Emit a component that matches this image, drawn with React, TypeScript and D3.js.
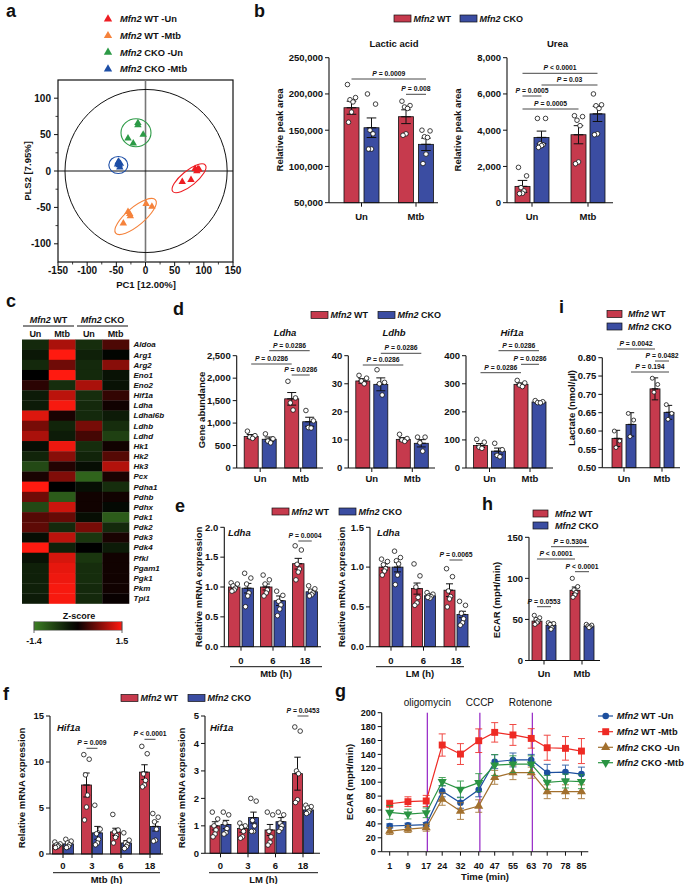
import React from "react";
import * as d3 from "d3";

const FONT = "Arial, 'Liberation Sans', Helvetica, sans-serif";
const WT_FILL = "#c63a4d";
const CKO_FILL = "#3b4da2";
const INK = "#111111";

// ---------------- Panel a : PLS-DA scores ----------------
const pcaLegendSuffix = [" WT -Un", " WT -Mtb", " CKO -Un", " CKO -Mtb"];
const pcaColors = ["#ee1d23", "#f5823b", "#2c9a46", "#1d4ea6"];
const pcaWTUn = [[85, 3], [92, 2], [88, 0], [90, 3], [78, -12], [63, -15]];
const pcaWTMtb = [[-30, -56], [-26, -62], [-38, -72], [1, -45], [11, -49], [-27, -59]];
const pcaCKOUn = [[-13, 66], [-13, 63], [-30, 45], [-21, 38], [-4, 50]];
const pcaCKOMtb = [[-47, 12], [-45, 8], [-43, 10], [-48, 9], [-44, 5], [-46, 13]];
const pcaGroups = [pcaWTUn, pcaWTMtb, pcaCKOUn, pcaCKOMtb];
const pcaXTicks = [-150, -100, -50, 0, 50, 100, 150];
const pcaYTicks = [-100, -50, 0, 50, 100];
const pcaEllipseCentres = [[74.6, -10], [-17, -62.5], [-16.3, 52.6], [-46.6, 8.2]];
const pcaEllipseShape = [[21, 7.5, -39], [26, 9, -40], [15, 14, 0], [9.5, 8.5, 0]];

// ---------------- Panel b ----------------
const unMtb = ["Un", "Mtb"];
const lacticWT = [181000, 168600];
const lacticWTErr = [9000, 9500];
const lacticWTPts = [[213000, 195000, 192000, 189000, 175000, 161000], [190000, 184000, 182000, 180000, 145000, 143000]];
const lacticCKO = [153400, 130500];
const lacticCKOErr = [13500, 8500];
const lacticCKOPts = [[200000, 186000, 150000, 145000, 124000, 124000], [150000, 149000, 141000, 140000, 117000, 104000]];
const ureaWT = [900, 3750];
const ureaWTErr = [330, 500];
const ureaWTPts = [[1950, 1480, 830, 650, 520, 500], [4800, 4750, 4550, 4250, 2250, 2150]];
const ureaCKO = [3600, 4900];
const ureaCKOErr = [350, 420];
const ureaCKOPts = [[4650, 4650, 3250, 3200, 3150, 3050], [6000, 5400, 5350, 5200, 3800, 3750]];

// ---------------- Panel c : heatmap ----------------
const heatGenes = ["Aldoa", "Arg1", "Arg2", "Eno1", "Eno2", "Hif1a", "Ldha", "Ldhal6b", "Ldhb", "Ldhd", "Hk1", "Hk2", "Hk3", "Pcx", "Pdha1", "Pdhb", "Pdhx", "Pdk1", "Pdk2", "Pdk3", "Pdk4", "Pfkl", "Pgam1", "Pgk1", "Pkm", "Tpi1"];
const heatWTUn = [-0.45, -0.25, -0.45, 0, 0.25, -0.3, -0.3, 1.3, 0.7, 1.0, -0.15, -0.4, -0.8, 0.15, 1.5, 0.65, -0.8, 0.5, 0.55, -0.15, 1.5, -0.2, -0.35, -0.35, -0.35, -0.3];
const heatWTMtb = [1.0, 1.5, 0.65, 1.5, -0.5, 1.1, 1.45, 0.15, -0.4, -0.3, 1.4, 0.8, 0.2, 0.75, 0, -1.0, 1.2, 0.6, -0.45, 1.1, -0.35, 1.25, 1.35, 1.4, 1.45, 1.45];
const heatCKOUn = [-0.5, -0.35, -0.45, -0.45, 1.0, -0.5, -0.45, -0.45, 0.7, 0.4, -0.5, -0.4, -0.15, -1.1, -0.15, 0.1, 0.1, -0.15, 0.7, -0.6, 0, -0.6, -0.5, -0.5, -0.45, -0.45];
const heatCKOMtb = [0.45, -0.05, 0.8, -0.2, -0.2, 0.3, 0.1, -0.3, -0.5, -0.7, 0.1, 0.5, 1.05, 0.15, -0.5, 0.1, -0.1, -1.0, -0.45, 0.15, -0.3, 0.1, 0.1, 0.1, 0.1, 0.05];
const heatCols = ["WT-Un", "WT-Mtb", "CKO-Un", "CKO-Mtb"];
const heatColLabels = ["Un", "Mtb", "Un", "Mtb"];

// ---------------- Panel d ----------------
const ldhaWT = [700, 1540];
const ldhaWTErr = [45, 140];
const ldhaWTPts = [[820, 720, 690, 660], [1930, 1560, 1450, 1290]];
const ldhaCKO = [640, 1030];
const ldhaCKOErr = [50, 100];
const ldhaCKOPts = [[760, 650, 600, 560], [1280, 1050, 900, 890]];
const ldhbWT = [31, 10.2];
const ldhbWTErr = [0.8, 0.6];
const ldhbWTPts = [[33, 32, 31, 30], [12, 10.5, 10, 9.5]];
const ldhbCKO = [29.8, 8.8];
const ldhbCKOErr = [2.3, 1.3];
const ldhbCKOPts = [[35, 30.5, 30, 26], [11, 11, 9, 6]];
const hifdWT = [80, 298];
const hifdWTErr = [7, 5];
const hifdWTPts = [[102, 92, 74, 70], [312, 303, 295, 290]];
const hifdCKO = [60, 235];
const hifdCKOErr = [11, 3];
const hifdCKOPts = [[88, 65, 45, 40], [240, 236, 233, 232]];

// ---------------- Panel i ----------------
const lactWT = [0.58, 0.715];
const lactWTErr = [0.022, 0.03];
const lactWTPts = [[0.6, 0.573, 0.555], [0.744, 0.727, 0.706]];
const lactCKO = [0.618, 0.651];
const lactCKOErr = [0.032, 0.019];
const lactCKOPts = [[0.648, 0.63, 0.585], [0.672, 0.648, 0.632]];

// ---------------- Panel e ----------------
const eTimes = ["0", "6", "18"];
const eMtbWT = [1.0, 1.0, 1.39];
const eMtbWTErr = [0.03, 0.05, 0.09];
const eMtbWTPts = [[1.07, 1.05, 1.02, 0.98, 0.95, 0.93], [1.2, 1.12, 1.05, 0.95, 0.9, 0.85], [1.69, 1.62, 1.38, 1.3, 1.25, 1.12]];
const eMtbCKO = [0.98, 0.77, 0.92];
const eMtbCKOErr = [0.08, 0.08, 0.04];
const eMtbCKOPts = [[1.23, 1.15, 1.05, 0.9, 0.85, 0.67], [0.93, 0.86, 0.76, 0.7, 0.63, 0.52], [1.02, 0.97, 0.93, 0.9, 0.87, 0.85]];
const eLmWT = [1.0, 0.73, 0.71];
const eLmWTErr = [0.04, 0.07, 0.08];
const eLmWTPts = [[1.1, 1.07, 1.03, 0.98, 0.95, 0.9], [1.04, 0.89, 0.75, 0.62, 0.55, 0.52], [0.98, 0.88, 0.7, 0.63, 0.6, 0.5]];
const eLmCKO = [1.0, 0.64, 0.405];
const eLmCKOErr = [0.06, 0.02, 0.04];
const eLmCKOPts = [[1.2, 1.12, 1.08, 1.04, 0.9, 0.78], [0.68, 0.66, 0.64, 0.63, 0.61, 0.62], [0.57, 0.52, 0.42, 0.35, 0.3, 0.27]];

// ---------------- Panel h ----------------
const ecarWT = [48, 85.5];
const ecarWTErr = [2.5, 4];
const ecarWTPts = [[55, 52, 50, 48, 46, 44], [100, 90, 86, 83, 80, 77]];
const ecarCKO = [43, 42];
const ecarCKOErr = [3.5, 1.5];
const ecarCKOPts = [[46, 45, 44, 40, 38], [44, 43, 42, 41, 40]];

// ---------------- Panel f ----------------
const fTimes = ["0", "3", "6", "18"];
const fMtbWT = [1.0, 7.5, 2.4, 8.9];
const fMtbWTErr = [0.1, 1.3, 0.4, 0.8];
const fMtbWTPts = [[1.3, 1.1, 1.0, 0.9, 0.8, 0.7], [10.8, 10.3, 8.6, 6.4, 5.1, 3.7], [4.3, 2.6, 2.4, 2.0, 1.8, 1.2], [11.7, 10.9, 8.7, 8.0, 7.5, 7.3]];
const fMtbCKO = [1.1, 2.3, 1.2, 3.0];
const fMtbCKOErr = [0.15, 0.7, 0.25, 0.5];
const fMtbCKOPts = [[1.6, 1.4, 1.2, 1.0, 0.8, 0.7], [5.3, 2.7, 2.2, 1.6, 1.2, 1.0], [2.3, 1.5, 1.2, 1.0, 0.8, 0.6], [4.4, 4.0, 3.5, 2.7, 1.5, 1.4]];
const fLmWT = [1.0, 0.9, 0.85, 2.9];
const fLmWTErr = [0.15, 0.13, 0.2, 0.6];
const fLmWTPts = [[1.5, 1.25, 1.0, 0.85, 0.7, 0.6], [1.1, 1.0, 0.95, 0.8, 0.6, 0.55], [1.5, 1.4, 0.8, 0.6, 0.4, 0.3], [4.6, 4.45, 3.0, 2.9, 1.95, 1.85]];
const fLmCKO = [1.05, 1.3, 1.15, 1.58];
const fLmCKOErr = [0.15, 0.2, 0.15, 0.06];
const fLmCKOPts = [[1.5, 1.4, 1.1, 0.9, 0.75, 0.7], [2.0, 1.9, 1.2, 1.0, 0.8, 0.8], [1.5, 1.4, 1.1, 1.0, 0.9, 0.8], [1.75, 1.7, 1.65, 1.55, 1.5, 1.45]];

// ---------------- Panel g : Seahorse ECAR ----------------
const gTimes = [1, 9, 17, 24, 32, 40, 47, 55, 63, 70, 78, 85];
const gInjections = [17.5, 40.5, 63.5];
const gInjectionNames = ["oligomycin", "CCCP", "Rotenone"];
const gWTUn = [37, 38, 39, 87, 70.5, 89, 129.5, 132, 132, 113.7, 114.6, 111.7];
const gWTUnErr = [3, 3, 3, 8, 8, 10, 10, 10, 8, 12, 10, 10];
const gWTMtb = [69, 72, 73, 153.5, 140.5, 159.7, 171.7, 168, 163, 149.6, 148.7, 144.8];
const gWTMtbErr = [5, 7, 8, 16, 15, 17, 14, 15, 14, 18, 17, 18];
const gCKOUn = [29.7, 32.6, 34.5, 75.8, 58.5, 65.7, 107, 113.7, 113.7, 86.3, 86.3, 86.3];
const gCKOUnErr = [5, 5, 5, 9, 12, 9, 10, 10, 8, 10, 10, 10];
const gCKOMtb = [56.6, 54.2, 56, 100.7, 89.7, 99.3, 124.7, 126, 126, 99.8, 101.7, 100.7];
const gCKOMtbErr = [10, 7, 7, 6, 12, 13, 15, 12, 12, 10, 10, 10];

// ---------------- helpers ----------------
function Txt(props: any) {
  const { children, ...rest } = props;
  return (
    <text fontFamily={FONT} fontWeight="bold" fill={INK} {...rest}>
      {children}
    </text>
  );
}

function Mfn2({ x, y, suffix, size = 9, anchor = "start" }: any) {
  return (
    <text x={x} y={y} fontFamily={FONT} fontWeight="bold" fontSize={size} textAnchor={anchor} fill={INK}>
      <tspan fontStyle="italic">Mfn2</tspan>
      {suffix}
    </text>
  );
}

function Letter({ x, y, ch }: any) {
  return (
    <Txt x={x} y={y} fontSize={18}>
      {ch}
    </Txt>
  );
}

function YLabel({ x, y, text, size = 9.5 }: any) {
  return (
    <Txt x={0} y={0} fontSize={size} textAnchor="middle" dy="0.35em" transform={`translate(${x},${y}) rotate(-90)`}>
      {text}
    </Txt>
  );
}

function LegendRow({ xs, y }: any) {
  return (
    <g>
      <rect x={xs[0]} y={y - 3.5} width={17} height={7} fill={WT_FILL} stroke={INK} strokeWidth={0.7} />
      <Mfn2 x={xs[0] + 19.5} y={y + 3.3} suffix=" WT" />
      <rect x={xs[1]} y={y - 3.5} width={17} height={7} fill={CKO_FILL} stroke={INK} strokeWidth={0.7} />
      <Mfn2 x={xs[1] + 19.5} y={y + 3.3} suffix="  CKO" />
    </g>
  );
}

function LegendCol({ x, ys, tx }: any) {
  return (
    <g>
      <rect x={x} y={ys[0] - 3.5} width={15} height={7} fill={WT_FILL} stroke={INK} strokeWidth={0.7} />
      <Mfn2 x={tx} y={ys[0] + 3.3} suffix=" WT" />
      <rect x={x} y={ys[1] - 3.5} width={15} height={7} fill={CKO_FILL} stroke={INK} strokeWidth={0.7} />
      <Mfn2 x={tx} y={ys[1] + 3.3} suffix=" CKO" />
    </g>
  );
}

function PLabel({ x, y, label, size = 6.8 }: any) {
  return (
    <Txt x={x} y={y} fontSize={size} textAnchor="middle">
      <tspan fontStyle="italic">{label.slice(0, 1)}</tspan>
      {label.slice(1)}
    </Txt>
  );
}

type Bar = { vals: number[]; errs: number[]; pts: number[][] };
type Br = { a: number[]; b: number[]; y: number; label: string };

function BarPanel(props: any) {
  const {
    x0, x1, y0, y1, domain, ticks, fmt, c1, c2, groupW, subPad, groups, series, brackets,
    ptR = 2.3, xLabelY, tickFs = 9.5,
  } = props;
  const y = d3.scaleLinear().domain(domain).range([y0, y1]);
  const n = groups.length;
  const step = (c2 - c1) / (n - 1);
  const pin = 1 - groupW / step;
  const gx = d3.scaleBand<string>().domain(groups).range([c1 - step / 2, c2 + step / 2]).paddingInner(pin).paddingOuter(pin / 2);
  const sx = d3.scaleBand<number>().domain([0, 1]).range([0, gx.bandwidth()]).paddingInner(subPad).paddingOuter(0);
  const bw = sx.bandwidth();
  const cx = (g: number, s: number) => (gx(groups[g]) as number) + (sx(s) as number) + bw / 2;
  const gc = (g: number) => (gx(groups[g]) as number) + gx.bandwidth() / 2;
  const jit = [-0.27, 0.27, -0.1, 0.1, 0, -0.2, 0.2];
  const fills = [WT_FILL, CKO_FILL];
  const cap = bw * 0.32;
  return (
    <g>
      {(series as Bar[]).map((s, si) =>
        s.vals.map((v, gi) => {
          const X = cx(gi, si);
          const top = y(v);
          const base = y(domain[0]);
          const e = s.errs[gi];
          return (
            <g key={`b${si}-${gi}`}>
              <rect x={X - bw / 2} y={top} width={bw} height={base - top} fill={fills[si]} stroke={INK} strokeWidth={0.8} />
              <line x1={X} x2={X} y1={y(v + e)} y2={y(v - e)} stroke={INK} strokeWidth={1} />
              <line x1={X - cap} x2={X + cap} y1={y(v + e)} y2={y(v + e)} stroke={INK} strokeWidth={1} />
              <line x1={X - cap} x2={X + cap} y1={y(v - e)} y2={y(v - e)} stroke={INK} strokeWidth={1} />
              <line x1={X - cap} x2={X + cap} y1={top} y2={top} stroke={INK} strokeWidth={1.2} />
              {s.pts[gi].map((p, k) => (
                <circle key={k} cx={X + jit[k % jit.length] * bw} cy={y(p)} r={ptR} fill="#fff" stroke={INK} strokeWidth={0.8} />
              ))}
            </g>
          );
        })
      )}
      {/* y axis */}
      <line x1={x0} x2={x0} y1={y(domain[0])} y2={y(domain[1])} stroke={INK} strokeWidth={1.1} />
      {(ticks as number[]).map((t) => (
        <g key={`t${t}`}>
          <line x1={x0 - 4} x2={x0} y1={y(t)} y2={y(t)} stroke={INK} strokeWidth={1} />
          <Txt x={x0 - 6} y={y(t)} dy="0.35em" fontSize={tickFs} textAnchor="end">
            {fmt(t)}
          </Txt>
        </g>
      ))}
      {/* x axis */}
      <line x1={x0} x2={x1} y1={y0} y2={y0} stroke={INK} strokeWidth={1.1} />
      {(groups as string[]).map((g, gi) => (
        <g key={`g${g}`}>
          <line x1={gc(gi)} x2={gc(gi)} y1={y0} y2={y0 + 4} stroke={INK} strokeWidth={1} />
          <Txt x={gc(gi)} y={xLabelY} fontSize={tickFs} textAnchor="middle">
            {g}
          </Txt>
        </g>
      ))}
      {(brackets as Br[]).map((b, bi) => {
        const xa = cx(b.a[0], b.a[1]);
        const xb = cx(b.b[0], b.b[1]);
        return (
          <g key={`br${bi}`}>
            <line x1={xa} x2={xb} y1={b.y} y2={b.y} stroke="#333" strokeWidth={0.9} />
            <PLabel x={(xa + xb) / 2} y={b.y - 3} label={b.label} />
          </g>
        );
      })}
    </g>
  );
}

function SubAxis({ x1, x2, y, label }: any) {
  return (
    <g>
      <line x1={x1} x2={x2} y1={y} y2={y} stroke={INK} strokeWidth={1} />
      <Txt x={(x1 + x2) / 2} y={y + 10.5} fontSize={9.5} textAnchor="middle">
        {label}
      </Txt>
    </g>
  );
}

// ---------------- Panels ----------------
function PanelA() {
  const x = d3.scaleLinear().domain([-150, 150]).range([58, 233]);
  const y = d3.scaleLinear().domain([-125, 125]).range([262, 80]);
  const tri = d3.symbol(d3.symbolTriangle, 24)();
  const triL = d3.symbol(d3.symbolTriangle, 30)();
  const minorX = [-125, -75, -25, 25, 75, 125];
  const minorY = [-75, -25, 25, 75];
  return (
    <g>
      <Letter x={6} y={17} ch="a" />
      {pcaLegendSuffix.map((s, i) => (
        <g key={s}>
          <path d={triL as string} transform={`translate(108,${19 + i * 16.7})`} fill={pcaColors[i]} />
          <Mfn2 x={120} y={22.3 + i * 16.7} suffix={s} size={9.3} />
        </g>
      ))}
      <rect x={x(-150)} y={y(125)} width={x(150) - x(-150)} height={y(-125) - y(125)} fill="none" stroke={INK} strokeWidth={1.2} />
      <line x1={x(0)} x2={x(0)} y1={y(125)} y2={y(-125)} stroke="#777" strokeWidth={1.6} />
      <line x1={x(-150)} x2={x(150)} y1={y(0)} y2={y(0)} stroke={INK} strokeWidth={1} />
      <ellipse cx={x(1)} cy={y(0)} rx={x(139) - x(0)} ry={y(0) - y(112)} fill="none" stroke={INK} strokeWidth={1} />
      {pcaEllipseCentres.map((c, i) => (
        <ellipse
          key={`e${i}`}
          cx={0}
          cy={0}
          rx={pcaEllipseShape[i][0]}
          ry={pcaEllipseShape[i][1]}
          transform={`translate(${x(c[0])},${y(c[1])}) rotate(${pcaEllipseShape[i][2]})`}
          fill="none"
          stroke={pcaColors[i]}
          strokeWidth={1.1}
        />
      ))}
      {pcaGroups.map((g, gi) =>
        g.map((p, k) => <path key={`p${gi}-${k}`} d={tri as string} transform={`translate(${x(p[0])},${y(p[1])})`} fill={pcaColors[gi]} />)
      )}
      {pcaXTicks.map((t) => (
        <g key={`x${t}`}>
          <line x1={x(t)} x2={x(t)} y1={262} y2={266} stroke={INK} strokeWidth={1} />
          <Txt x={x(t)} y={274} fontSize={10} textAnchor="middle">
            {t}
          </Txt>
        </g>
      ))}
      {minorX.map((t) => (
        <line key={`mx${t}`} x1={x(t)} x2={x(t)} y1={262} y2={264.5} stroke={INK} strokeWidth={0.8} />
      ))}
      {pcaYTicks.map((t) => (
        <g key={`y${t}`}>
          <line x1={54} x2={58} y1={y(t)} y2={y(t)} stroke={INK} strokeWidth={1} />
          <Txt x={51} y={y(t)} dy="0.35em" fontSize={10} textAnchor="end">
            {t}
          </Txt>
        </g>
      ))}
      {minorY.map((t) => (
        <line key={`my${t}`} x1={55.5} x2={58} y1={y(t)} y2={y(t)} stroke={INK} strokeWidth={0.8} />
      ))}
      <YLabel x={28} y={171} text="PLS2 [7.95%]" />
      <Txt x={146} y={288} fontSize={9.5} textAnchor="middle">
        PC1 [12.00%]
      </Txt>
    </g>
  );
}

function PanelB() {
  const lacticBr: Br[] = [
    { a: [0, 0], b: [1, 1], y: 79, label: "P = 0.0009" },
    { a: [1, 0], b: [1, 1], y: 94.3, label: "P = 0.008" },
  ];
  const ureaBr: Br[] = [
    { a: [0, 0], b: [1, 1], y: 73.3, label: "P < 0.0001" },
    { a: [0, 1], b: [1, 1], y: 85, label: "P = 0.03" },
    { a: [0, 0], b: [0, 1], y: 96, label: "P = 0.0005" },
    { a: [0, 0], b: [1, 0], y: 109, label: "P = 0.0005" },
  ];
  return (
    <g>
      <Letter x={254} y={17} ch="b" />
      <LegendRow xs={[394, 460]} y={18.5} />
      <Txt x={394} y={46.5} fontSize={9.5} textAnchor="middle">
        Lactic acid
      </Txt>
      <Txt x={557.5} y={46.5} fontSize={9.5} textAnchor="middle">
        Urea
      </Txt>
      <BarPanel
        x0={329} x1={438} y0={202.7} y1={57.7} domain={[50000, 250000]} ticks={d3.range(50000, 250001, 50000)}
        fmt={d3.format(",")} c1={361.5} c2={416} groupW={35} subPad={0.25} groups={unMtb}
        series={[
          { vals: lacticWT, errs: lacticWTErr, pts: lacticWTPts },
          { vals: lacticCKO, errs: lacticCKOErr, pts: lacticCKOPts },
        ]}
        brackets={lacticBr} xLabelY={219.5}
      />
      <YLabel x={280} y={130} text="Relative peak area" />
      <BarPanel
        x0={507} x1={613} y0={202.7} y1={57.7} domain={[0, 8000]} ticks={d3.range(0, 8001, 2000)}
        fmt={d3.format(",")} c1={532} c2={588} groupW={34} subPad={0.21} groups={unMtb}
        series={[
          { vals: ureaWT, errs: ureaWTErr, pts: ureaWTPts },
          { vals: ureaCKO, errs: ureaCKOErr, pts: ureaCKOPts },
        ]}
        brackets={ureaBr} xLabelY={219.5}
      />
      <YLabel x={458} y={130} text="Relative peak area" />
    </g>
  );
}

function PanelC() {
  const cols = [heatWTUn, heatWTMtb, heatCKOUn, heatCKOMtb];
  const x = d3.scaleBand<string>().domain(heatCols).range([22, 129]);
  const y = d3.scaleBand<string>().domain(heatGenes).range([339.5, 603.5]);
  const color = d3.scaleLinear<string>().domain([-1.4, 0, 1.5]).range(["#3d7f24", "#000000", "#ff1a10"]);
  const cb = d3.scaleLinear().domain([-1.4, 1.5]).range([34, 122]);
  const stops = d3.range(0, 1.0001, 0.1).map((f) => -1.4 + f * 2.9);
  return (
    <g>
      <Letter x={6} y={307} ch="c" />
      <Mfn2 x={48.5} y={323} suffix=" WT" anchor="middle" size={9} />
      <Mfn2 x={102.5} y={323} suffix="  CKO" anchor="middle" size={9} />
      <line x1={23} x2={74} y1={326} y2={326} stroke={INK} strokeWidth={1} />
      <line x1={77} x2={128} y1={326} y2={326} stroke={INK} strokeWidth={1} />
      {heatCols.map((c, i) => (
        <Txt key={c} x={(x(c) as number) + x.bandwidth() / 2} y={336.5} fontSize={9} textAnchor="middle">
          {heatColLabels[i]}
        </Txt>
      ))}
      {cols.map((col, ci) =>
        col.map((v, ri) => (
          <rect
            key={`h${ci}-${ri}`}
            x={x(heatCols[ci]) as number}
            y={y(heatGenes[ri]) as number}
            width={x.bandwidth() + 0.3}
            height={y.bandwidth() + 0.3}
            fill={color(v)}
          />
        ))
      )}
      {heatGenes.map((g) => (
        <Txt key={g} x={133.5} y={(y(g) as number) + y.bandwidth() / 2} dy="0.35em" fontSize={8} fontStyle="italic">
          {g}
        </Txt>
      ))}
      <defs>
        <linearGradient id="zgrad" x1="0" x2="1" y1="0" y2="0">
          {stops.map((s, i) => (
            <stop key={i} offset={`${i * 10}%`} stopColor={color(s)} />
          ))}
        </linearGradient>
      </defs>
      <Txt x={79} y={619} fontSize={9} textAnchor="middle">
        Z-score
      </Txt>
      <rect x={cb(-1.4)} y={621.7} width={cb(1.5) - cb(-1.4)} height={8.5} fill="url(#zgrad)" stroke="#666" strokeWidth={0.5} />
      {[-1.4, 1.5].map((t) => (
        <g key={t}>
          <line x1={cb(t)} x2={cb(t)} y1={621.7} y2={633} stroke="#444" strokeWidth={0.8} />
          <Txt x={cb(t)} y={644} fontSize={9} textAnchor="middle">
            {t}
          </Txt>
        </g>
      ))}
    </g>
  );
}

function PanelD() {
  const p = "P = 0.0286";
  const br1: Br[] = [
    { a: [0, 1], b: [1, 1], y: 350.7, label: p },
    { a: [0, 0], b: [1, 0], y: 364, label: p },
    { a: [1, 0], b: [1, 1], y: 375, label: p },
  ];
  const br2: Br[] = [
    { a: [0, 1], b: [1, 1], y: 353.3, label: p },
    { a: [0, 0], b: [1, 0], y: 365, label: p },
  ];
  const br3: Br[] = [
    { a: [0, 1], b: [1, 1], y: 350.7, label: p },
    { a: [1, 0], b: [1, 1], y: 364.3, label: p },
    { a: [0, 0], b: [1, 0], y: 372.7, label: p },
  ];
  const common = { y0: 468, y1: 355.7, groupW: 32, subPad: 0.222, groups: unMtb, xLabelY: 481.5 };
  return (
    <g>
      <Letter x={173} y={315} ch="d" />
      <LegendRow xs={[311, 378]} y={315} />
      <Txt x={285} y={335.5} fontSize={9.5} textAnchor="middle" fontStyle="italic">Ldha</Txt>
      <Txt x={394} y={335.5} fontSize={9.5} textAnchor="middle" fontStyle="italic">Ldhb</Txt>
      <Txt x={512} y={335.5} fontSize={9.5} textAnchor="middle" fontStyle="italic">Hif1a</Txt>
      <BarPanel
        {...common} x0={236.7} x1={323} domain={[0, 2500]} ticks={d3.range(0, 2501, 500)} fmt={d3.format(",")}
        c1={260.2} c2={300.7}
        series={[
          { vals: ldhaWT, errs: ldhaWTErr, pts: ldhaWTPts },
          { vals: ldhaCKO, errs: ldhaCKOErr, pts: ldhaCKOPts },
        ]}
        brackets={br1}
      />
      <BarPanel
        {...common} x0={348.3} x1={435} domain={[0, 40]} ticks={d3.range(0, 41, 10)} fmt={d3.format("d")}
        c1={371.8} c2={412.3}
        series={[
          { vals: ldhbWT, errs: ldhbWTErr, pts: ldhbWTPts },
          { vals: ldhbCKO, errs: ldhbCKOErr, pts: ldhbCKOPts },
        ]}
        brackets={br2}
      />
      <BarPanel
        {...common} x0={466} x1={553} domain={[0, 400]} ticks={d3.range(0, 401, 100)} fmt={d3.format("d")}
        c1={489.5} c2={530}
        series={[
          { vals: hifdWT, errs: hifdWTErr, pts: hifdWTPts },
          { vals: hifdCKO, errs: hifdCKOErr, pts: hifdCKOPts },
        ]}
        brackets={br3}
      />
      <YLabel x={202} y={410} text="Gene abundance" />
    </g>
  );
}

function PanelI() {
  const br: Br[] = [
    { a: [0, 0], b: [1, 0], y: 349, label: "P = 0.0042" },
    { a: [1, 0], b: [1, 1], y: 361, label: "P = 0.0482" },
    { a: [0, 1], b: [1, 1], y: 372, label: "P = 0.194" },
  ];
  return (
    <g>
      <Letter x={559} y={313} ch="i" />
      <LegendCol x={607} ys={[314, 326.5]} tx={628} />
      <BarPanel
        x0={602.3} x1={680} y0={467.7} y1={357.7} domain={[0.5, 0.8]} ticks={[0.5, 0.55, 0.6, 0.65, 0.7, 0.75, 0.8]}
        fmt={d3.format(".2f")} c1={624} c2={662} groupW={24} subPad={0.286} groups={unMtb}
        series={[
          { vals: lactWT, errs: lactWTErr, pts: lactWTPts },
          { vals: lactCKO, errs: lactCKOErr, pts: lactCKOPts },
        ]}
        brackets={br} xLabelY={481.8} ptR={2}
      />
      <YLabel x={572} y={408} text="Lactate (nmol/μl)" />
    </g>
  );
}

function PanelE() {
  return (
    <g>
      <Letter x={175} y={512} ch="e" />
      <LegendRow xs={[272, 339]} y={511.5} />
      <BarPanel
        x0={224.3} x1={321} y0={646.7} y1={527.3} domain={[0, 2]} ticks={[0, 0.5, 1, 1.5, 2]} fmt={d3.format(".1f")}
        c1={241} c2={305} groupW={25} subPad={0.148} groups={eTimes}
        series={[
          { vals: eMtbWT, errs: eMtbWTErr, pts: eMtbWTPts },
          { vals: eMtbCKO, errs: eMtbCKOErr, pts: eMtbCKOPts },
        ]}
        brackets={[{ a: [2, 0], b: [2, 1], y: 541, label: "P = 0.0004" }]} xLabelY={663.5}
      />
      <Txt x={228} y={535.5} fontSize={9.5} fontStyle="italic">Ldha</Txt>
      <SubAxis x1={230} x2={322} y={666.7} label="Mtb (h)" />
      <YLabel x={199} y={587} text="Relative mRNA expression" />
      <BarPanel
        x0={370} x1={470} y0={646.7} y1={527.3} domain={[0, 1.5]} ticks={[0, 0.5, 1, 1.5]} fmt={d3.format(".1f")}
        c1={391} c2={456} groupW={24} subPad={0.154} groups={eTimes}
        series={[
          { vals: eLmWT, errs: eLmWTErr, pts: eLmWTPts },
          { vals: eLmCKO, errs: eLmCKOErr, pts: eLmCKOPts },
        ]}
        brackets={[{ a: [2, 0], b: [2, 1], y: 560, label: "P = 0.0065" }]} xLabelY={663.5}
      />
      <Txt x={377} y={535.5} fontSize={9.5} fontStyle="italic">Ldha</Txt>
      <SubAxis x1={376} x2={464} y={666.7} label="LM (h)" />
      <YLabel x={342} y={587} text="Relative mRNA expression" />
    </g>
  );
}

function PanelH() {
  const br: Br[] = [
    { a: [0, 0], b: [0, 1], y: 606.7, label: "P = 0.0553" },
    { a: [0, 0], b: [1, 0], y: 559, label: "P < 0.0001" },
    { a: [0, 1], b: [1, 1], y: 546.7, label: "P = 0.5304" },
    { a: [1, 0], b: [1, 1], y: 571.7, label: "P < 0.0001" },
  ];
  return (
    <g>
      <Letter x={482} y={510} ch="h" />
      <LegendCol x={533} ys={[513.5, 525.5]} tx={555} />
      <BarPanel
        x0={529} x1={600} y0={660.5} y1={537.3} domain={[0, 150]} ticks={[0, 50, 100, 150]} fmt={d3.format("d")}
        c1={544} c2={582} groupW={24} subPad={0.286} groups={unMtb}
        series={[
          { vals: ecarWT, errs: ecarWTErr, pts: ecarWTPts },
          { vals: ecarCKO, errs: ecarCKOErr, pts: ecarCKOPts },
        ]}
        brackets={br} xLabelY={676.5} ptR={2.1}
      />
      <YLabel x={497} y={600} text="ECAR (mpH/min)" />
    </g>
  );
}

function PanelF() {
  return (
    <g>
      <Letter x={3} y={700} ch="f" />
      <LegendRow xs={[121, 188]} y={698} />
      <BarPanel
        x0={50} x1={163} y0={854} y1={716} domain={[0, 15]} ticks={[0, 5, 10, 15]} fmt={d3.format("d")}
        c1={63} c2={150} groupW={21} subPad={0.09} groups={fTimes}
        series={[
          { vals: fMtbWT, errs: fMtbWTErr, pts: fMtbWTPts },
          { vals: fMtbCKO, errs: fMtbCKOErr, pts: fMtbCKOPts },
        ]}
        brackets={[
          { a: [1, 0], b: [1, 1], y: 748.3, label: "P = 0.009" },
          { a: [3, 0], b: [3, 1], y: 739.3, label: "P < 0.0001" },
        ]}
        xLabelY={868.5}
      />
      <Txt x={57} y={730.5} fontSize={9.5} fontStyle="italic">Hif1a</Txt>
      <SubAxis x1={53} x2={160} y={872.7} label="Mtb (h)" />
      <YLabel x={22} y={788} text="Relative mRNA expression" />
      <BarPanel
        x0={205} x1={320} y0={853.3} y1={716} domain={[0, 5]} ticks={[0, 1, 2, 3, 4, 5]} fmt={d3.format("d")}
        c1={220.5} c2={303} groupW={21} subPad={0.09} groups={fTimes}
        series={[
          { vals: fLmWT, errs: fLmWTErr, pts: fLmWTPts },
          { vals: fLmCKO, errs: fLmCKOErr, pts: fLmCKOPts },
        ]}
        brackets={[{ a: [3, 0], b: [3, 1], y: 716, label: "P = 0.0453" }]}
        xLabelY={868.5}
      />
      <Txt x={210} y={730.5} fontSize={9.5} fontStyle="italic">Hif1a</Txt>
      <SubAxis x1={209} x2={318} y={872.7} label="LM (h)" />
      <YLabel x={182} y={788} text="Relative mRNA expression" />
    </g>
  );
}

function PanelG() {
  const x = d3.scaleLinear().domain([-2.5, 88]).range([381.7, 588.3]);
  const y = d3.scaleLinear().domain([0, 200]).range([851.7, 712.7]);
  const series = [
    { suffix: " WT -Un", vals: gWTUn, errs: gWTUnErr, color: "#1c4f9e", sym: d3.symbolCircle, size: 34, rot: 0 },
    { suffix: " WT -Mtb", vals: gWTMtb, errs: gWTMtbErr, color: "#ee2a24", sym: d3.symbolSquare, size: 48, rot: 0 },
    { suffix: " CKO -Un", vals: gCKOUn, errs: gCKOUnErr, color: "#a2702e", sym: d3.symbolTriangle, size: 36, rot: 0 },
    { suffix: " CKO -Mtb", vals: gCKOMtb, errs: gCKOMtbErr, color: "#2a9442", sym: d3.symbolTriangle, size: 36, rot: 180 },
  ];
  const line = (vals: number[]) =>
    d3.line<number>().x((_, i) => x(gTimes[i])).y((d) => y(d))(vals) as string;
  const legendYs = [716, 731.7, 747.3, 762.7];
  return (
    <g>
      <Letter x={335} y={697} ch="g" />
      {gInjections.map((t, i) => (
        <g key={`inj${t}`}>
          <line x1={x(t)} x2={x(t)} y1={y(200)} y2={y(0)} stroke="#9b33c9" strokeWidth={1.3} />
          <text x={x(t) + (i === 2 ? -2 : 0)} y={705.5} fontFamily={FONT} fontSize={10} textAnchor="middle" fill={INK}>
            {gInjectionNames[i]}
          </text>
        </g>
      ))}
      {series.map((s, si) => (
        <g key={`s${si}`}>
          {s.vals.map((v, i) => {
            const X = x(gTimes[i]);
            return (
              <g key={i} stroke={s.color} strokeWidth={1} opacity={0.85}>
                <line x1={X} x2={X} y1={y(v + s.errs[i])} y2={y(v - s.errs[i])} />
                <line x1={X - 3.5} x2={X + 3.5} y1={y(v + s.errs[i])} y2={y(v + s.errs[i])} />
                <line x1={X - 3.5} x2={X + 3.5} y1={y(v - s.errs[i])} y2={y(v - s.errs[i])} />
              </g>
            );
          })}
          <path d={line(s.vals)} fill="none" stroke={s.color} strokeWidth={1.2} />
          {s.vals.map((v, i) => (
            <path
              key={`m${i}`}
              d={d3.symbol(s.sym, s.size)() as string}
              transform={`translate(${x(gTimes[i])},${y(v)}) rotate(${s.rot})`}
              fill={s.color}
            />
          ))}
        </g>
      ))}
      {/* axes */}
      <line x1={x(-2.5)} x2={x(-2.5)} y1={y(0)} y2={y(200)} stroke={INK} strokeWidth={1.1} />
      {d3.range(0, 201, 20).map((t) => (
        <g key={`gy${t}`}>
          <line x1={x(-2.5) - 4} x2={x(-2.5)} y1={y(t)} y2={y(t)} stroke={INK} strokeWidth={1} />
          <Txt x={x(-2.5) - 6} y={y(t)} dy="0.35em" fontSize={9} textAnchor="end">
            {t}
          </Txt>
        </g>
      ))}
      <line x1={x(-2.5)} x2={x(88)} y1={y(0)} y2={y(0)} stroke={INK} strokeWidth={1.1} />
      {gTimes.map((t) => (
        <g key={`gx${t}`}>
          <line x1={x(t)} x2={x(t)} y1={y(0)} y2={y(0) + 4} stroke={INK} strokeWidth={1} />
          <Txt x={x(t)} y={868.5} fontSize={9} textAnchor="middle">
            {t}
          </Txt>
        </g>
      ))}
      <Txt x={485} y={880} fontSize={9.5} textAnchor="middle">
        Time (min)
      </Txt>
      <YLabel x={350} y={782} text="ECAR (mpH/min)" />
      {series.map((s, si) => (
        <g key={`lg${si}`}>
          <line x1={598} x2={613} y1={legendYs[si]} y2={legendYs[si]} stroke={s.color} strokeWidth={1.2} />
          <path d={d3.symbol(s.sym, s.size)() as string} transform={`translate(605.7,${legendYs[si]}) rotate(${s.rot})`} fill={s.color} />
          <Mfn2 x={616.7} y={legendYs[si] + 3.3} suffix={s.suffix} size={9.3} />
        </g>
      ))}
    </g>
  );
}

export default function App() {
  return (
    <svg width={685} height={884} viewBox="0 0 685 884" style={{ position: "absolute", left: 0, top: 0, background: "#fff" }}>
      <rect width={685} height={884} fill="#fff" />
      <PanelA />
      <PanelB />
      <PanelC />
      <PanelD />
      <PanelI />
      <PanelE />
      <PanelH />
      <PanelF />
      <PanelG />
    </svg>
  );
}
